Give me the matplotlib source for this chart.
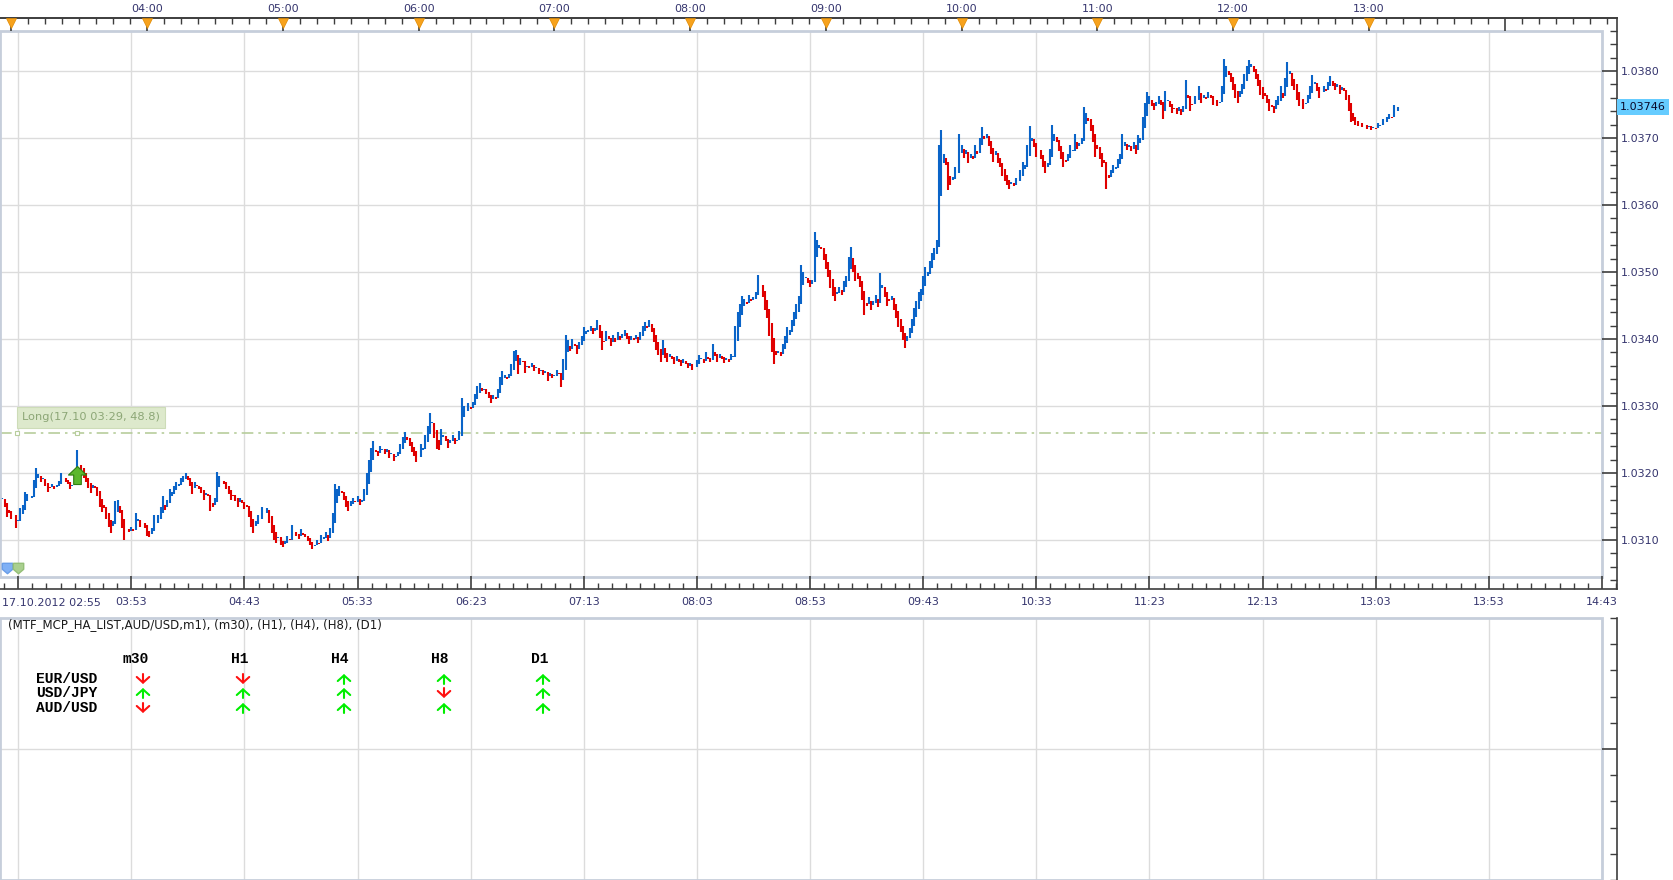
import numpy as np
import matplotlib
matplotlib.use('Agg')
import matplotlib.pyplot as plt
from matplotlib.ticker import FixedLocator, FixedFormatter, NullFormatter, FormatStrFormatter
from matplotlib.patches import Rectangle, FancyArrowPatch
from matplotlib.transforms import blended_transform_factory

# ——— DATA ———
# AUD/USD m1 Heikin-Ashi closes, in points above 1.03000 (1 point = 0.00001), one per minute from 02:55
closes_pts = [
    158, 162, 150, 135, 140, 132, 138, 118, 130, 148,
    152, 172, 168, 162, 166, 190, 207, 198, 186, 192,
    180, 172, 178, 184, 176, 182, 188, 200, 192, 186,
    184, 176, 182, 196, 234, 212, 204, 192, 186, 178,
    170, 182, 178, 166, 150, 142, 148, 132, 120, 110,
    128, 158, 160, 140, 118, 100, 116, 112, 120, 114,
    140, 132, 120, 126, 118, 106, 104, 118, 138, 126,
    138, 150, 165, 145, 160, 176, 172, 180, 186, 184,
    192, 196, 200, 190, 180, 168, 186, 180, 176, 170,
    160, 170, 166, 144, 150, 162, 202, 195, 188, 184,
    176, 168, 160, 166, 158, 150, 162, 155, 146, 150,
    135, 120, 110, 128, 138, 132, 150, 140, 148, 126,
    110, 100, 96, 104, 92, 90, 98, 106, 100, 122,
    112, 106, 102, 116, 108, 104, 98, 92, 86, 92,
    100, 94, 108, 104, 112, 98, 118, 140, 184, 176,
    180, 170, 160, 150, 144, 158, 162, 156, 165, 152,
    160, 176, 200, 220, 238, 248, 232, 226, 240, 236,
    228, 236, 222, 230, 218, 226, 232, 244, 254, 261,
    250, 240, 232, 226, 216, 224, 244, 238, 256, 270,
    290, 276, 252, 236, 234, 266, 256, 248, 238, 250,
    256, 244, 250, 262, 312, 300, 292, 304, 296, 306,
    318, 330, 334, 322, 326, 318, 312, 304, 316, 310,
    326, 344, 352, 346, 340, 348, 362, 382, 384, 348,
    372, 366, 350, 360, 356, 364, 352, 358, 348, 354,
    346, 352, 338, 350, 342, 346, 354, 348, 328, 370,
    406, 398, 382, 400, 390, 378, 396, 404, 418, 412,
    414, 420, 408, 416, 428, 402, 384, 396, 412, 400,
    390, 406, 396, 410, 398, 408, 414, 400, 392, 404,
    398, 406, 394, 410, 420, 426, 416, 428, 410, 396,
    384, 376, 366, 398, 372, 366, 378, 370, 362, 374,
    366, 360, 370, 362, 356, 364, 354, 358, 368, 376,
    372, 364, 380, 370, 366, 392, 374, 366, 378, 370,
    364, 372, 366, 378, 374, 420, 440, 452, 464, 460,
    452, 466, 456, 462, 470, 496, 480, 462, 444, 432,
    404, 380, 362, 376, 382, 374, 392, 404, 418, 414,
    428, 440, 452, 464, 510, 500, 492, 484, 478, 488,
    560, 548, 540, 534, 518, 504, 492, 476, 464, 456,
    470, 478, 466, 486, 494, 522, 538, 500, 486, 490,
    478, 458, 436, 450, 462, 444, 456, 466, 448, 498,
    480, 462, 450, 456, 464, 444, 432, 418, 410, 398,
    386, 404, 416, 430, 446, 456, 470, 474, 494, 508,
    500, 516, 528, 536, 548, 690, 712, 676, 660, 622,
    630, 642, 656, 648, 706, 690, 670, 682, 662, 676,
    668, 690, 676, 700, 716, 698, 706, 688, 676, 664,
    680, 662, 656, 644, 636, 630, 624, 634, 628, 640,
    636, 652, 664, 660, 690, 718, 700, 686, 672, 682,
    668, 656, 648, 662, 684, 720, 706, 694, 680, 668,
    656, 664, 676, 690, 682, 706, 684, 692, 700, 746,
    738, 726, 710, 694, 672, 684, 668, 656, 662, 624,
    640, 652, 660, 656, 668, 676, 706, 694, 682, 690,
    680, 694, 676, 704, 700, 732, 752, 768, 762, 748,
    742, 754, 762, 750, 728, 770, 756, 746, 738, 744,
    736, 746, 734, 748, 786, 760, 740, 750, 762, 756,
    778, 752, 764, 758, 768, 760, 750, 756, 748, 754,
    778, 818, 808, 794, 784, 772, 760, 752, 770, 780,
    796, 808, 816, 810, 798, 788, 778, 764, 758, 762,
    752, 740, 746, 738, 756, 762, 778, 760, 790, 814,
    800, 778, 772, 756, 748, 758, 744, 752, 764, 778,
    794, 784, 770, 760, 768, 778, 770, 784, 792, 778,
    772, 780, 766, 776, 770, 756, 740, 724, 726, 720,
    718, 722, 716, 720, 714, 718, 712, 716, 714, 722,
    720, 728, 724, 732, 736, 730, 750, 740, 746,
]
first_open_pts = 164
last_price = 1.03746

grid_times = ['03:03', '03:53', '04:43', '05:33', '06:23', '07:13', '08:03', '08:53',
              '09:43', '10:33', '11:23', '12:13', '13:03', '13:53', '14:43']
hour_times = ['03:00', '04:00', '05:00', '06:00', '07:00', '08:00', '09:00',
              '10:00', '11:00', '12:00', '13:00', '14:00']
hour_labels = ['', '04:00', '05:00', '06:00', '07:00', '08:00', '09:00',
               '10:00', '11:00', '12:00', '13:00', '']
price_ticks = [1.0310, 1.0320, 1.0330, 1.0340, 1.0350, 1.0360, 1.0370, 1.0380]

signal_time = '03:29'
signal_price = 1.03197
long_level = 1.03259
long_text = 'Long(17.10 03:29, 48.8)'

caption = '(MTF_MCP_HA_LIST,AUD/USD,m1), (m30), (H1), (H4), (H8), (D1)'
table_cols = ['m30', 'H1', 'H4', 'H8', 'D1']
table_rows = ['EUR/USD', 'USD/JPY', 'AUD/USD']
table_dirs = [[-1, -1, 1, 1, 1],
              [1, 1, 1, -1, 1],
              [-1, 1, 1, 1, 1]]

# ——— STYLE / LAYOUT ———
W, H = 1674, 880
BLUE, RED = '#0a64c8', '#e00000'
GRID = '#dcdcdc'
EDGE = '#c6cedb'
AXC = '#3d3d3d'
LBL = '#35356e'
START = 2 * 60 + 55


def to_min(s):
    h, m = map(int, s.split(':'))
    return h * 60 + m - START


def rect(x0, y0, x1, y1):
    return [x0 / W, 1 - y1 / H, (x1 - x0) / W, (y1 - y0) / H]


X_END = to_min('14:43')
YLO, YHI = 1.0380 - 506 / 67000, 1.0380 + 40 / 67000
PX_P = (YHI - YLO) / 546

grid_min = [to_min(s) for s in grid_times]
hour_min = [to_min(s) for s in hour_times]

fig = plt.figure(figsize=(W / 100, H / 100), dpi=100)
fig.patch.set_facecolor('white')

# ——— MAIN PRICE PANEL ———
ax = fig.add_axes(rect(0, 31, 1602, 577))
ax.set_xlim(0, X_END)
ax.set_ylim(YLO, YHI)
ax.set_xticks(grid_min)
ax.set_yticks(price_ticks)
ax.grid(True, color=GRID, lw=1)
ax.tick_params(length=0, labelbottom=False, labelleft=False)
for s in ax.spines.values():
    s.set_visible(False)
ax.add_patch(Rectangle((0, 0), 1, 1, transform=ax.transAxes, fill=False,
                       ec=EDGE, lw=2, clip_on=False, zorder=6))

# heikin-ashi bodies: open is the midpoint of the previous body
closes = 1.03 + np.array(closes_pts) / 1e5
opens = np.empty_like(closes)
opens[0] = 1.03 + first_open_pts / 1e5
for i in range(1, len(closes)):
    opens[i] = (opens[i - 1] + closes[i - 1]) / 2
t = np.arange(len(closes))
up = closes >= opens
ax.vlines(t[up], opens[up], closes[up], color=BLUE, lw=1.5, zorder=3)
ax.vlines(t[~up], opens[~up], closes[~up], color=RED, lw=1.5, zorder=3)

# long signal line + label
ax.axhline(long_level, color='#b7cd9c', lw=1.2, ls=(0, (7, 3, 1.5, 3)), zorder=2)
ax.plot([7.5, to_min(signal_time)], [long_level, long_level], 's', ms=3,
        mfc='white', mec='#b7cd9c', mew=0.8, zorder=4)
ax.text(9.6, long_level + 16 * PX_P, long_text, fontsize=8.2, color='#8ca676',
        ha='left', va='center', zorder=7,
        bbox=dict(boxstyle='square,pad=0.45', fc='#dde9cc', ec='#cddcb8', lw=0.8))

arrow = [(0, 1), (1, 0.05), (0.42, 0.05), (0.42, -1), (-0.42, -1), (-0.42, 0.05), (-1, 0.05), (0, 1)]
ax.plot([to_min(signal_time)], [signal_price], marker=arrow, ms=13, color='#5cb82e',
        mec='#2f7d12', mew=0.8, zorder=8)

home = [(-1, 1), (1, 1), (1, -0.15), (0, -1), (-1, -0.15), (-1, 1)]
trx = ax.get_xaxis_transform()
ax.plot([3.2], [0.016], marker=home, ms=7.5, color='#7fb0f5', mec='#6a9ee8', transform=trx, zorder=8)
ax.plot([8.0], [0.016], marker=home, ms=7.5, color='#a9cf8f', mec='#94bf78', transform=trx, zorder=8)

# ——— OUTER AXES (bottom time, right price) ———
axf = fig.add_axes(rect(0, 18, 1617, 589))
axf.patch.set_visible(False)
axf.set_xlim(0, X_END * 1617 / 1602)
axf.set_ylim(YLO - 12 * PX_P, YHI + 13 * PX_P)
axf.spines['left'].set_visible(False)
for k in ('top', 'right', 'bottom'):
    axf.spines[k].set_color(AXC)
    axf.spines[k].set_linewidth(1.2)

axf.xaxis.set_major_locator(FixedLocator(grid_min))
axf.xaxis.set_major_formatter(FixedFormatter([''] + grid_times[1:]))
axf.xaxis.set_minor_locator(FixedLocator(np.arange(1.75, 716, 6.25)))
axf.tick_params(axis='x', which='major', direction='in', length=9.4, width=1.2,
                color=AXC, labelsize=8, labelcolor=LBL, pad=6)
axf.tick_params(axis='x', which='minor', direction='in', length=4.2, width=1, color=AXC)

axf.yaxis.tick_right()
axf.yaxis.set_major_locator(FixedLocator(price_ticks))
axf.yaxis.set_major_formatter(FormatStrFormatter('%.4f'))
axf.yaxis.set_minor_locator(FixedLocator(np.arange(1.0302, 1.0388, 0.0002)))
axf.tick_params(axis='y', which='major', direction='in', length=10.8, width=1.2,
                color=AXC, labelsize=8, labelcolor=LBL, pad=3)
axf.tick_params(axis='y', which='minor', direction='in', length=5, width=1, color=AXC)

fig.text(2 / W, 1 - 603 / H, '17.10.2012 02:55', fontsize=8, color=LBL, va='center', ha='left')

bt = blended_transform_factory(axf.transAxes, axf.transData)
axf.text(1 + 3 / 1617, last_price, '%.5f' % last_price, transform=bt, fontsize=8,
         color='#0a0a2a', ha='left', va='center',
         bbox=dict(boxstyle='square,pad=0.25', fc='#66ccff', ec='none'))

# ——— TOP TIME AXIS ———
axt = axf.twiny()
axt.set_xlim(axf.get_xlim())
for k in ('left', 'right', 'bottom'):
    axt.spines[k].set_visible(False)
axt.spines['top'].set_color(AXC)
axt.spines['top'].set_linewidth(1.2)
axt.xaxis.set_major_locator(FixedLocator(hour_min))
axt.xaxis.set_major_formatter(FixedFormatter(hour_labels))
axt.xaxis.set_minor_locator(FixedLocator(np.arange(hour_min[0], 716, 7.5)))
axt.tick_params(axis='x', which='major', direction='in', length=9.4, width=1.2,
                color=AXC, labelsize=8, labelcolor=LBL, pad=3)
axt.tick_params(axis='x', which='minor', direction='in', length=4.3, width=1, color=AXC)
axt.plot(hour_min[:-1], [1 - 5 / 571] * (len(hour_min) - 1), 'v', ms=7, color='#f7a21c',
         mec='#e08a00', mew=0.5, transform=axt.get_xaxis_transform(), clip_on=False, zorder=10)

# ——— INDICATOR PANEL ———
ax2 = fig.add_axes(rect(0, 618, 1602, 880))
ax2.set_xlim(0, X_END)
ax2.set_ylim(0, 1)
ax2.set_xticks(grid_min)
ax2.set_yticks([0.5])
ax2.grid(True, color=GRID, lw=1)
ax2.tick_params(length=0, labelbottom=False, labelleft=False)
for s in ax2.spines.values():
    s.set_visible(False)
ax2.add_patch(Rectangle((0, 0), 1, 1, transform=ax2.transAxes, fill=False,
                        ec=EDGE, lw=2, clip_on=False, zorder=6))

ax2f = fig.add_axes(rect(0, 618, 1617, 880))
ax2f.patch.set_visible(False)
ax2f.set_ylim(0, 262)
ax2f.set_xlim(0, 1)
for k in ('left', 'top', 'bottom'):
    ax2f.spines[k].set_visible(False)
ax2f.spines['right'].set_color(AXC)
ax2f.spines['right'].set_linewidth(1.2)
ax2f.set_xticks([])
ax2f.yaxis.tick_right()
ax2f.yaxis.set_major_locator(FixedLocator([131]))
ax2f.yaxis.set_minor_locator(FixedLocator(np.arange(0, 263, 26.2)))
ax2f.yaxis.set_major_formatter(NullFormatter())
ax2f.tick_params(axis='y', which='major', direction='in', length=10.8, width=1.2, color=AXC)
ax2f.tick_params(axis='y', which='minor', direction='in', length=5, width=1, color=AXC)

fig.text(8 / W, 1 - 625 / H, caption, fontsize=8.5, color='#1a1a1a', va='center', ha='left')

head_x = [136, 240, 340, 440, 540]
arrow_x = [143, 243, 344, 444, 543]
row_y = [679, 693, 708]
for name, hx in zip(table_cols, head_x):
    fig.text(hx / W, 1 - 659 / H, name, family='Liberation Mono', fontweight='bold',
             fontsize=10.5, color='black', ha='center', va='center')
for r, name in enumerate(table_rows):
    fig.text(36 / W, 1 - row_y[r] / H, name, family='Liberation Mono', fontweight='bold',
             fontsize=10.5, color='black', ha='left', va='center')
    for c, d in enumerate(table_dirs[r]):
        # signal arrow drawn as a small patch, 10 px tall
        y_tail = row_y[r] + 5 * d
        y_head = row_y[r] - 5 * d
        fig.add_artist(FancyArrowPatch(
            (arrow_x[c] / W, 1 - y_tail / H), (arrow_x[c] / W, 1 - y_head / H),
            transform=fig.transFigure, arrowstyle='->,head_length=0.45,head_width=0.5',
            mutation_scale=9, lw=1.5, shrinkA=0, shrinkB=0,
            color='#00ee00' if d > 0 else '#ff1010'))

fig.savefig('out.png', dpi=100)
